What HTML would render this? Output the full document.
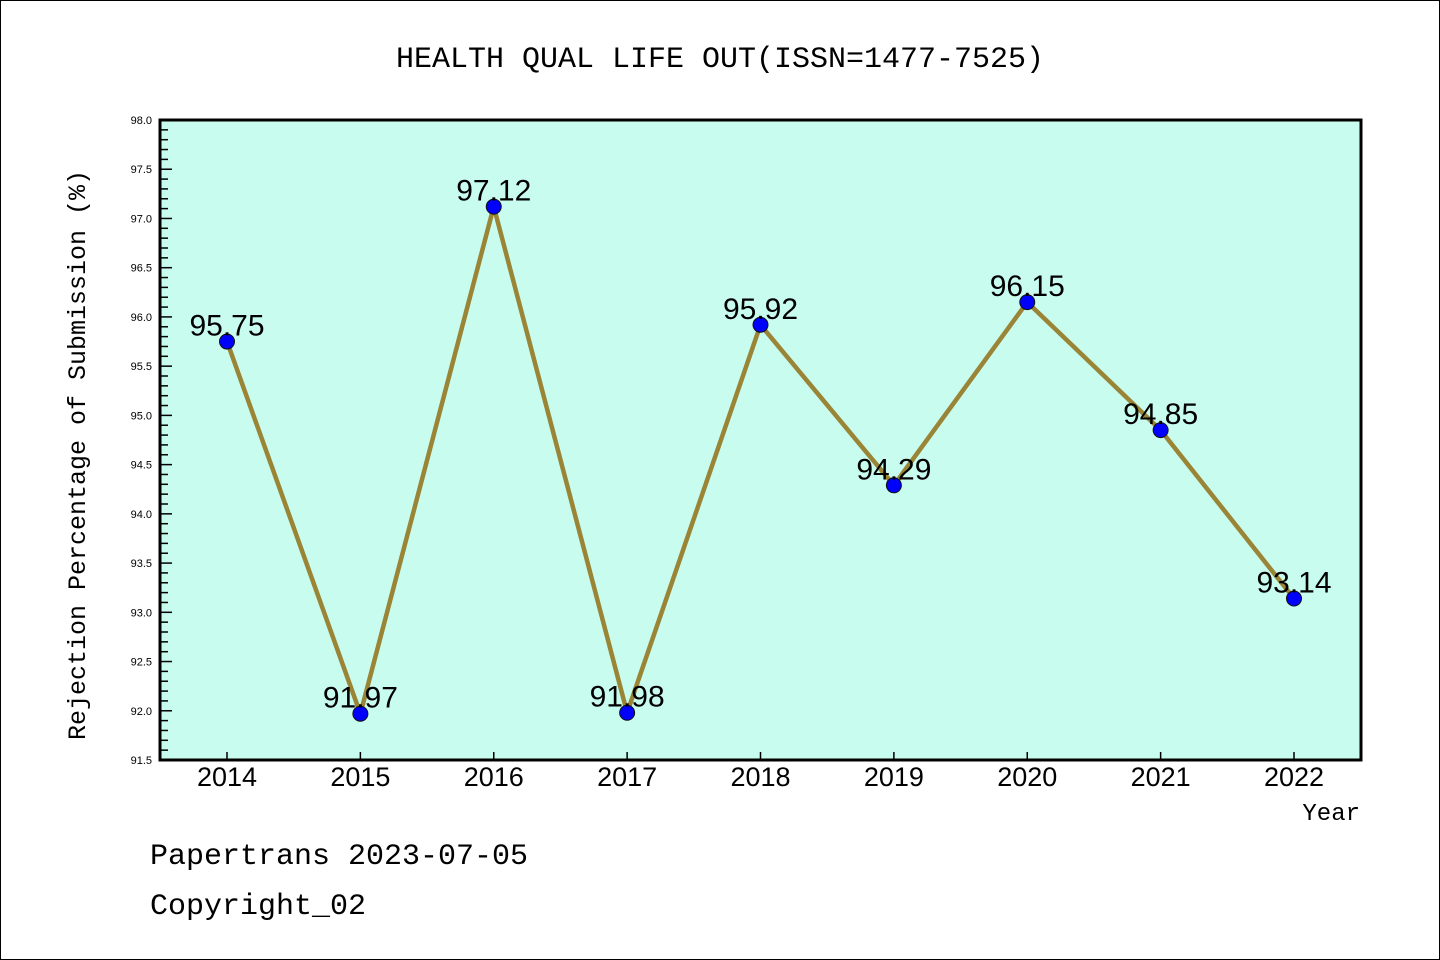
<!DOCTYPE html>
<html><head><meta charset="utf-8"><style>
body{margin:0;background:#fff;}
svg{display:block;}
.m{font-family:"Liberation Mono","DejaVu Sans Mono",monospace;}
.s{font-family:"Liberation Sans","DejaVu Sans",sans-serif;}
</style></head><body>
<svg id="chart" width="1440" height="960" xmlns="http://www.w3.org/2000/svg">
<rect x="0.5" y="0.5" width="1439" height="959" fill="#fff" stroke="#000"/>
<text class="m" x="720" y="67" font-size="30" text-anchor="middle">HEALTH QUAL LIFE OUT(ISSN=1477-7525)</text>
<rect x="160" y="120" width="1201" height="640" fill="#c8fcee"/>
<g id="yticks"></g><g id="xticks"></g><g id="series"></g>
<rect x="160" y="120" width="1201" height="640" fill="none" stroke="#000" stroke-width="3"/>
<text class="m" transform="translate(85,455) rotate(-90)" font-size="25" text-anchor="middle">Rejection Percentage of Submission (%)</text>
<text class="m" x="1360" y="820" font-size="24" text-anchor="end">Year</text>
<text class="m" x="150" y="864" font-size="30">Papertrans 2023-07-05</text>
<text class="m" x="150" y="914" font-size="30">Copyright_02</text>
</svg>
<script>
const years=[2014,2015,2016,2017,2018,2019,2020,2021,2022];
const values=[95.75,91.97,97.12,91.98,95.92,94.29,96.15,94.85,93.14];
const labels=["95.75","91.97","97.12","91.98","95.92","94.29","96.15","94.85","93.14"];
const yTicks=["91.5","92.0","92.5","93.0","93.5","94.0","94.5","95.0","95.5","96.0","96.5","97.0","97.5","98.0"];
const NS="http://www.w3.org/2000/svg";
const yMin=91.5,yMax=98.0;
const ys=v=>760-(v-yMin)/(yMax-yMin)*640;
const xs=i=>227+i*(1294-227)/(years.length-1);
function mk(t,a,p){const e=document.createElementNS(NS,t);for(const k in a)e.setAttribute(k,a[k]);p.appendChild(e);return e;}
const yg=document.getElementById('yticks');
for(let k=0;k<=Math.round((yMax-yMin)*10);k++){
  const v=yMin+k*0.1,y=ys(v),maj=k%5===0;
  const l=mk('line',{x1:160,x2:160+(maj?12:8),y1:y,y2:y,stroke:'#000','stroke-width':1.5},yg);
  
  
}
yTicks.forEach(t=>{
  const tx=mk('text',{x:152,y:ys(parseFloat(t))+4,'font-size':11,'text-anchor':'end',class:'s'},yg);tx.textContent=t;
  
  
});
const xg=document.getElementById('xticks');
years.forEach((yr,i)=>{
  const l=mk('line',{x1:xs(i),x2:xs(i),y1:760,y2:752,stroke:'#000','stroke-width':1.5},xg);
  
  
  const t=mk('text',{x:xs(i),y:786,'font-size':27,'text-anchor':'middle',class:'s'},xg);t.textContent=yr;
  
  
});
const sg=document.getElementById('series');
const pl=mk('polyline',{points:values.map((v,i)=>xs(i)+','+ys(v)).join(' '),fill:'none',stroke:'#9a8436','stroke-width':4.5},sg);


values.forEach((v,i)=>{
  const c=mk('circle',{cx:xs(i),cy:ys(v),r:7.5,fill:'#0000ff',stroke:'#111','stroke-width':1},sg);
  
  
  const t=mk('text',{x:xs(i),y:ys(v)-6,'font-size':30,'text-anchor':'middle',class:'s'},sg);t.textContent=labels[i];
  
  
});
</script>
</body></html>
